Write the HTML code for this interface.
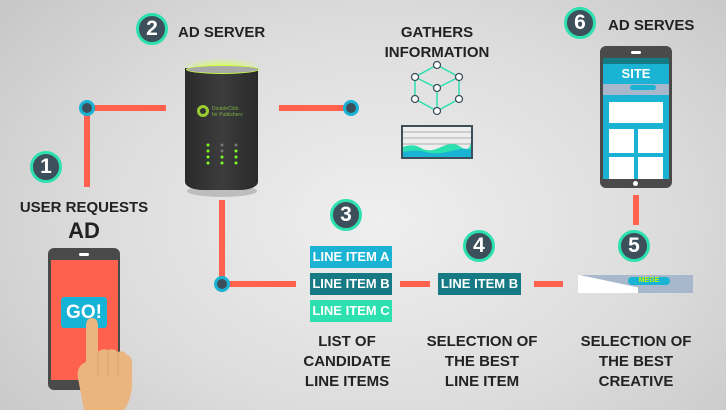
<!DOCTYPE html>
<html><head><meta charset="utf-8"><style>
body{margin:0;width:726px;height:410px;overflow:hidden;background:radial-gradient(ellipse 520px 360px at 380px 220px,#efefef 0%,#dcdcdc 55%,#c4c4c4 100%);font-family:"Liberation Sans",sans-serif;position:relative}
.a{position:absolute}
.num{position:absolute;width:26px;height:26px;border-radius:50%;background:#3d4f5a;border:3px solid #2de0b0;color:#fff;font-weight:bold;font-size:21px;line-height:26px;text-align:center}
.t{position:absolute;color:#222;font-weight:bold;font-size:15px;text-align:center;line-height:20px}
.r{position:absolute;background:#fe614d}
.node{position:absolute;width:10px;height:10px;border-radius:50%;background:#3d4f5a;border:3px solid #1ab3d4}
.li{position:absolute;width:82px;height:22px;color:#fff;font-weight:bold;font-size:13px;line-height:22px;text-align:center}
</style></head><body>
<!-- connectors -->
<div class="r" style="left:84px;top:105px;width:82px;height:6px"></div>
<div class="r" style="left:84px;top:105px;width:6px;height:82px"></div>
<div class="node" style="left:79px;top:100px"></div>
<div class="r" style="left:279px;top:105px;width:72px;height:6px"></div>
<div class="node" style="left:343px;top:100px"></div>
<div class="r" style="left:219px;top:200px;width:6px;height:84px"></div>
<div class="r" style="left:219px;top:281px;width:77px;height:6px"></div>
<div class="node" style="left:214px;top:276px"></div>
<div class="r" style="left:400px;top:281px;width:30px;height:6px"></div>
<div class="r" style="left:534px;top:281px;width:29px;height:6px"></div>
<div class="r" style="left:633px;top:195px;width:6px;height:30px"></div>

<!-- numbers -->
<div class="num" style="left:136px;top:13px">2</div>
<div class="num" style="left:30px;top:151px">1</div>
<div class="num" style="left:330px;top:199px">3</div>
<div class="num" style="left:463px;top:230px">4</div>
<div class="num" style="left:618px;top:230px">5</div>
<div class="num" style="left:564px;top:7px">6</div>

<div class="t" style="left:178px;top:23px;text-align:left">AD SERVER</div>
<div class="t" style="left:608px;top:16px;text-align:left">AD SERVES</div>
<div class="t" style="left:380px;top:23px;width:114px">GATHERS<br>INFORMATION</div>
<div class="t" style="left:4px;top:198px;width:160px">USER REQUESTS</div>
<div class="t" style="left:4px;top:218px;width:160px;font-size:22px;line-height:26px">AD</div>
<div class="t" style="left:280px;top:332px;width:134px">LIST OF<br>CANDIDATE<br>LINE ITEMS</div>
<div class="t" style="left:410px;top:332px;width:144px">SELECTION OF<br>THE BEST<br>LINE ITEM</div>
<div class="t" style="left:564px;top:332px;width:144px">SELECTION OF<br>THE BEST<br>CREATIVE</div>

<!-- line items -->
<div class="li" style="left:310px;top:246px;background:#1ab3d4">LINE ITEM A</div>
<div class="li" style="left:310px;top:273px;background:#167a85">LINE ITEM B</div>
<div class="li" style="left:310px;top:300px;background:#2de0b0">LINE ITEM C</div>
<div class="li" style="left:438px;top:273px;background:#167a85;width:83px">LINE ITEM B</div>

<!-- banner -->
<div class="a" style="left:578px;top:275px;width:115px;height:18px;background:#a8b8cc;overflow:hidden">
<div class="a" style="left:0;top:6px;width:60px;height:20px;background:#fff;transform:skewY(12deg)"></div>
<div class="a" style="left:50px;top:2px;width:42px;height:8px;border-radius:4px;background:#1ab3d4;color:#c8f000;font-size:7px;font-weight:bold;text-align:center;line-height:8px">MEGE</div>
</div>

<!-- server -->
<div class="a" style="left:182px;top:58px;width:80px;height:18px;border-radius:50%;background:radial-gradient(#d8ff60,rgba(200,255,60,0) 70%)"></div>
<div class="a" style="left:187px;top:185px;width:70px;height:12px;border-radius:50%;background:#bdbdbd"></div>
<div class="a" style="left:185px;top:68px;width:73px;height:122px;background:linear-gradient(90deg,#2a2a2a,#3c3c3c 50%,#2a2a2a);border-radius:0 0 18px 18px/0 0 8px 8px"></div>
<div class="a" style="left:186px;top:65px;width:71px;height:7px;border-radius:50%;background:#a8a8a8;border:1px solid #c8ff40"></div>
<div class="a" style="left:197px;top:105px;width:12px;height:12px;border-radius:50%;border:3px solid #9acd32;box-sizing:border-box"></div>
<div class="a" style="left:212px;top:106px;color:#7cb342;font-size:5px;line-height:6px">DoubleClick<br>for Publishers</div>
<svg class="a" style="left:200px;top:142px" width="40" height="26"><g fill="#7fff20"><circle cx="8" cy="3" r="1.5"/><circle cx="8" cy="9" r="1.5"/><circle cx="8" cy="15" r="1.5"/><circle cx="8" cy="21" r="1.5"/><circle cx="22" cy="15" r="1.5"/><circle cx="22" cy="21" r="1.5"/><circle cx="36" cy="9" r="1.5"/><circle cx="36" cy="15" r="1.5"/><circle cx="36" cy="21" r="1.5"/></g><g fill="#777"><circle cx="22" cy="3" r="1.5"/><circle cx="22" cy="9" r="1.5"/><circle cx="36" cy="3" r="1.5"/></g></svg>

<!-- cube -->
<svg class="a" style="left:410px;top:60px" width="56" height="56"><g stroke="#2de0b0" stroke-width="1.5" fill="none"><polyline points="27,5 5,17 5,39 27,51 49,39 49,17 27,5"/><polyline points="5,17 27,28 49,17"/><line x1="27" y1="28" x2="27" y2="51"/></g><g fill="#fff" stroke="#3d4f5a" stroke-width="1.3"><circle cx="27" cy="5" r="3.5"/><circle cx="5" cy="17" r="3.5"/><circle cx="49" cy="17" r="3.5"/><circle cx="27" cy="28" r="3.5"/><circle cx="5" cy="39" r="3.5"/><circle cx="49" cy="39" r="3.5"/><circle cx="27" cy="51" r="3.5"/></g></svg>
<!-- chart -->
<svg class="a" style="left:401px;top:125px" width="72" height="34"><rect x="1" y="1" width="70" height="32" fill="#eee" stroke="#3d4f5a" stroke-width="2"/><g stroke="#999" stroke-width="0.8"><line x1="2" y1="7" x2="70" y2="7"/><line x1="2" y1="13" x2="70" y2="13"/><line x1="2" y1="19" x2="70" y2="19"/></g><path d="M2 22 Q12 18 20 23 T40 22 T60 22 T70 17 V32 H2Z" fill="#2de0b0"/><path d="M2 27 Q15 24 25 27 T50 26 T70 25 V32 H2Z" fill="#1ab3d4"/></svg>

<!-- right phone -->
<div class="a" style="left:600px;top:46px;width:72px;height:142px;background:#4a4a4a;border-radius:6px"></div>
<div class="a" style="left:603px;top:58px;width:66px;height:121px;background:#1ab3d4"></div>
<div class="a" style="left:603px;top:58px;width:66px;height:6px;background:#167a85"></div>
<div class="a" style="left:603px;top:66px;width:66px;text-align:center;color:#fff;font-weight:bold;font-size:13px">SITE</div>
<div class="a" style="left:603px;top:84px;width:66px;height:11px;background:#a8b8cc"></div>
<div class="a" style="left:630px;top:85px;width:26px;height:5px;border-radius:3px;background:#1ab3d4"></div>
<div class="a" style="left:609px;top:102px;width:54px;height:21px;background:#fff"></div>
<div class="a" style="left:609px;top:129px;width:25px;height:24px;background:#fff"></div>
<div class="a" style="left:638px;top:129px;width:25px;height:24px;background:#fff"></div>
<div class="a" style="left:609px;top:157px;width:25px;height:22px;background:#fff"></div>
<div class="a" style="left:638px;top:157px;width:25px;height:22px;background:#fff"></div>
<div class="a" style="left:633px;top:181px;width:5px;height:5px;border-radius:50%;background:#fff"></div>
<div class="a" style="left:631px;top:51px;width:10px;height:3px;background:#fff;border-radius:2px"></div>

<!-- left phone -->
<div class="a" style="left:48px;top:248px;width:72px;height:142px;background:#4a4a4a;border-radius:6px"></div>
<div class="a" style="left:51px;top:260px;width:67px;height:120px;background:#fe614d"></div>
<div class="a" style="left:79px;top:253px;width:10px;height:3px;background:#fff;border-radius:2px"></div>
<div class="a" style="left:61px;top:297px;width:46px;height:31px;background:#15b3d5;border-radius:3px;color:#fff;font-weight:bold;font-size:19px;line-height:31px;text-align:center">GO!</div>
<svg class="a" style="left:74px;top:318px" width="58" height="92"><path d="M10 92 L4 60 Q2 48 12 44 L12 8 Q12 0 18 0 Q24 0 24 8 L24 34 Q28 30 34 32 Q40 30 44 34 Q50 32 53 37 Q58 38 58 46 L58 70 Q56 84 50 92Z" fill="#eab57f"/><g stroke="#d9a06a" stroke-width="1"><line x1="24" y1="34" x2="24" y2="58"/><line x1="34" y1="32" x2="34" y2="58"/><line x1="44" y1="34" x2="44" y2="58"/></g></svg>
</body></html>
